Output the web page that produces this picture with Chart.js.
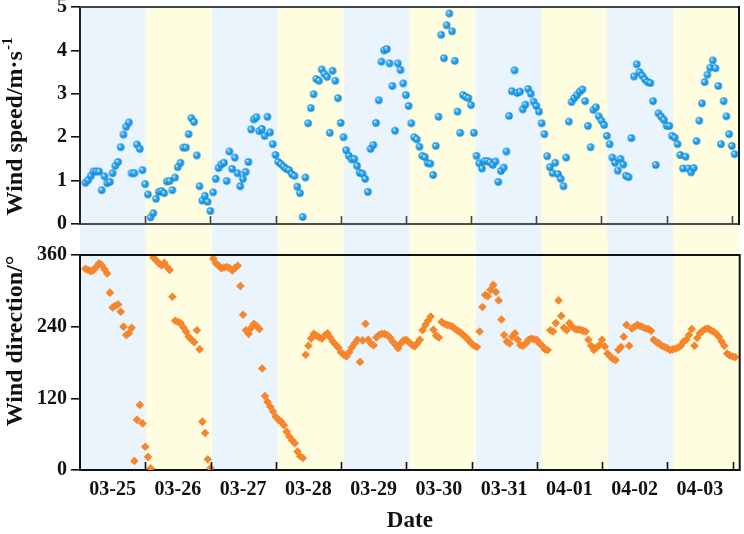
<!DOCTYPE html>
<html><head><meta charset="utf-8">
<script src="https://cdn.jsdelivr.net/npm/chart.js@4.4.1/dist/chart.umd.min.js"></script>
<style>
html,body{margin:0;padding:0;background:#fff;}
#wrap{position:relative;width:744px;height:534px;overflow:hidden;}
#c1{position:absolute;left:0;top:0;}
#c2{position:absolute;left:0;top:240px;}
</style></head><body>
<div id="wrap"><canvas id="c1" width="744" height="240"></canvas><canvas id="c2" width="744" height="294"></canvas></div>
<script>
// ---- data ----
const dateLabels = ['03-25','03-26','03-27','03-28','03-29','03-30','03-31','04-01','04-02','04-03'];
const startHour = 2; // first record: 03-25 02:00, hourly
const speedTicks = [0,1,2,3,4,5];
const directionTicks = [0,120,240,360];
const windSpeed = [
0.95,1.01,1.11,1.21,1.21,1.21,0.78,1.10,0.94,0.97,1.17,1.34,1.43,1.77,2.06,2.24,2.34,1.17,1.17,1.83,1.73,1.24,0.92,0.68,
0.15,0.25,0.58,0.74,0.76,0.71,0.98,0.99,0.78,1.07,1.31,1.41,1.76,1.76,2.07,2.44,2.35,1.58,0.87,0.54,0.65,0.51,0.30,0.73,
1.04,1.29,1.37,1.41,0.99,1.67,1.27,1.53,1.17,0.87,1.04,1.20,1.43,2.18,2.41,2.46,2.14,2.19,2.03,2.47,2.11,1.84,1.59,1.43,
1.38,1.32,1.27,1.24,1.15,1.11,0.86,0.71,0.16,1.07,2.32,2.67,2.99,3.34,3.30,3.56,3.46,3.39,2.10,3.53,3.30,2.90,2.33,2.00,
1.70,1.57,1.49,1.50,1.34,1.18,1.16,1.04,0.74,1.73,1.82,2.33,2.85,3.74,4.00,4.03,3.70,3.18,2.15,3.70,3.55,3.24,2.97,2.72,
2.32,2.00,1.95,1.78,1.57,1.54,1.40,1.39,1.13,1.80,2.47,4.36,3.82,4.58,4.85,4.44,3.76,2.59,2.10,2.97,2.93,2.90,2.74,2.10,
1.57,1.40,1.28,1.45,1.45,1.42,1.36,1.44,0.97,1.22,1.30,1.67,2.49,3.06,3.54,3.02,3.05,2.64,2.75,3.11,3.00,2.82,2.72,2.59,
2.32,2.07,1.56,1.31,1.17,1.41,1.15,1.04,0.87,1.53,2.36,2.81,2.90,2.97,3.05,3.10,2.83,2.26,1.77,2.63,2.69,2.48,2.38,2.28,
2.03,1.84,1.53,1.41,1.23,1.50,1.37,1.11,1.08,1.98,3.40,3.68,3.50,3.42,3.33,3.27,3.25,2.83,1.36,2.55,2.47,2.40,2.26,2.26,
2.03,1.99,1.84,1.59,1.28,1.55,1.28,1.19,1.29,1.91,2.38,2.78,3.27,3.44,3.60,3.77,3.59,3.18,1.84,2.83,2.48,2.07,1.80,1.61
];
const windDirection = [
337,335,333,335,340,346,343,336,329,297,272,275,277,265,240,226,229,238,15,84,109,78,39,22,
3,356,351,346,343,347,340,335,290,250,248,246,239,232,223,218,214,234,202,81,62,18,3,
354,346,342,338,339,340,338,334,338,342,308,260,234,228,238,245,241,236,170,124,114,106,98,89,84,81,75,64,56,50,45,31,23,20,
193,208,220,228,225,222,220,225,229,222,215,210,205,197,193,190,197,205,212,218,181,217,245,218,212,209,222,226,228,228,226,222,
215,210,204,212,217,218,214,210,207,212,218,234,243,250,257,235,225,222,248,245,243,242,240,236,233,230,226,222,217,212,208,206,
232,273,293,291,302,310,298,284,252,226,215,212,223,229,218,209,208,212,218,220,219,218,212,208,202,201,234,232,246,284,
258,238,234,246,240,236,235,235,233,232,218,208,201,205,209,218,207,195,190,186,184,201,206,223,243,208,237,240,243,241,
239,237,236,233,218,214,212,208,206,204,201,202,203,205,208,215,218,226,236,208,221,229,233,236,237,234,232,228,223,215,
208,195,192,190,189
];
// time in days since 03-25 00:00
const timeDays = windSpeed.map((_, i) => (startHour + i) / 24);

// ---- styles ----
const SERIF = '"Liberation Serif","Times New Roman",serif';
const X_MAX = 10.11;
const BAND_COLORS = ['#e9f4fd', '#fefde0'];

function ballImage(r) {
  const s = Math.ceil(2 * r + 2);
  const c = document.createElement('canvas');
  c.width = c.height = s;
  const g = c.getContext('2d');
  const cx = s / 2;
  const grad = g.createRadialGradient(cx - r * 0.35, cx - r * 0.4, 0.2, cx, cx, r);
  grad.addColorStop(0, '#f2fbff');
  grad.addColorStop(0.3, '#46b6f6');
  grad.addColorStop(0.75, '#1594e6');
  grad.addColorStop(1, '#0a7fd0');
  g.fillStyle = grad;
  g.beginPath(); g.arc(cx, cx, r, 0, Math.PI * 2); g.fill();
  return c;
}

const bandsPlugin = {
  id: 'bands',
  beforeDraw(chart, args, opts) {
    const { ctx, chartArea } = chart;
    const xs = chart.scales.x;
    const n = dateLabels.length;
    const step = (xs.max - xs.min) / n;
    const y0 = opts.top === 'canvas' ? 0 : chartArea.top;
    const y1 = opts.bottom === 'canvas' ? chart.height : chartArea.bottom;
    ctx.save();
    for (let k = 0; k < n; k++) {
      const a = xs.getPixelForValue(xs.min + k * step);
      const b = xs.getPixelForValue(xs.min + (k + 1) * step);
      ctx.fillStyle = BAND_COLORS[k % 2];
      ctx.fillRect(a, y0, b - a, y1 - y0);
    }
    ctx.restore();
  }
};

const framePlugin = {
  id: 'frame',
  afterDraw(chart, args, opts) {
    const { ctx, chartArea } = chart;
    const xs = chart.scales.x;
    ctx.save();
    ctx.lineWidth = 2;
    ctx.strokeStyle = opts.topColor;
    ctx.beginPath(); ctx.moveTo(chartArea.left, chartArea.top); ctx.lineTo(chartArea.right, chartArea.top); ctx.stroke();
    ctx.strokeStyle = '#111';
    ctx.beginPath(); ctx.moveTo(chartArea.right, chartArea.top - 1); ctx.lineTo(chartArea.right, chartArea.bottom + 1); ctx.stroke();
    ctx.strokeStyle = opts.tickColor;
    ctx.lineWidth = 1.6;
    for (let k = 1; k <= dateLabels.length; k++) {
      const px = Math.round(xs.getPixelForValue(k)) + 0.5;
      ctx.beginPath(); ctx.moveTo(px, chartArea.bottom); ctx.lineTo(px, chartArea.bottom - 8); ctx.stroke();
    }
    ctx.fillStyle = '#111';
    ctx.translate(opts.titleX, opts.titleY);
    ctx.rotate(-Math.PI / 2);
    ctx.textBaseline = 'middle';
    ctx.font = 'bold 24px ' + SERIF;
    const main = opts.title;
    const wMain = ctx.measureText(main).width;
    let wSup = 0;
    if (opts.sup) { ctx.font = 'bold 15px ' + SERIF; wSup = ctx.measureText(opts.sup).width; }
    const total = wMain + wSup;
    ctx.font = 'bold 24px ' + SERIF;
    ctx.textAlign = 'left';
    ctx.fillText(main, -total / 2, 0);
    if (opts.sup) {
      ctx.font = 'bold 15px ' + SERIF;
      ctx.fillText(opts.sup, -total / 2 + wMain + 1, -8);
    }
    ctx.restore();
  }
};

const tickFont = { family: SERIF, size: 20, weight: 'bold' };

function yAxis(min, max, ticksArr, borderColor) {
  return {
    type: 'linear', min, max,
    afterBuildTicks: s => { s.ticks = ticksArr.map(v => ({ value: v })); },
    ticks: { font: tickFont, color: '#111', padding: 4 },
    grid: { display: true, drawOnChartArea: false, drawTicks: true, tickLength: 9, color: '#111', lineWidth: 1.6 },
    border: { display: true, color: borderColor, width: 2 },
    afterFit: s => { s.width = 80; s.paddingTop = 0; s.paddingBottom = 0; }
  };
}

// ---- top chart: wind speed ----
new Chart(document.getElementById('c1'), {
  type: 'scatter',
  data: {
    datasets: [{
      data: timeDays.map((t, i) => ({ x: t, y: windSpeed[i] })),
      pointStyle: ballImage(3.7),
      pointRadius: 4, pointHoverRadius: 4
    }]
  },
  options: {
    responsive: false, animation: false, devicePixelRatio: 1,
    layout: { padding: { top: 7, right: 3, left: 0, bottom: 0 } },
    plugins: {
      legend: { display: false }, tooltip: { enabled: false },
      bands: { top: 'area', bottom: 'canvas' },
      frame: { topColor: '#3c4650', tickColor: '#3c4650', title: 'Wind speed/m·s', sup: '-1', titleX: 16, titleY: 127 }
    },
    scales: {
      x: {
        type: 'linear', min: 0, max: X_MAX,
        ticks: { display: false },
        grid: { display: false },
        border: { display: true, color: '#46505a', width: 2 },
        afterFit: s => { s.height = 16; }
      },
      y: yAxis(0, 5, speedTicks, '#222')
    }
  },
  plugins: [bandsPlugin, framePlugin]
});

// ---- bottom chart: wind direction ----
new Chart(document.getElementById('c2'), {
  type: 'scatter',
  data: {
    datasets: [{
      data: timeDays.map((t, i) => ({ x: t, y: windDirection[i] })),
      pointStyle: 'rectRot', pointRadius: 4.3, pointHoverRadius: 4.3,
      backgroundColor: '#f6852b', borderColor: '#f6852b', borderWidth: 0
    }]
  },
  options: {
    responsive: false, animation: false, devicePixelRatio: 1,
    layout: { padding: { top: 15, right: 3, left: 0, bottom: 0 } },
    plugins: {
      legend: { display: false }, tooltip: { enabled: false },
      bands: { top: 'canvas', bottom: 'area' },
      frame: { topColor: '#111', tickColor: '#111', title: 'Wind direction/°', sup: '', titleX: 16, titleY: 101 }
    },
    scales: {
      x: {
        type: 'linear', min: 0, max: X_MAX,
        afterBuildTicks: s => { s.ticks = dateLabels.map((_, i) => ({ value: i + 0.5 })); },
        ticks: { font: tickFont, color: '#111', padding: 8, autoSkip: false, maxRotation: 0,
                 callback: (v, i) => dateLabels[i] },
        grid: { display: false, drawTicks: false },
        border: { display: true, color: '#111', width: 2 },
        title: { display: true, text: 'Date', font: { family: SERIF, size: 23, weight: 'bold', lineHeight: 1.1 }, color: '#111', padding: { top: 0, bottom: 0 } },
        afterFit: s => { s.height = 64; }
      },
      y: yAxis(0, 360, directionTicks, '#111')
    }
  },
  plugins: [bandsPlugin, framePlugin]
});
</script>
</body></html>
